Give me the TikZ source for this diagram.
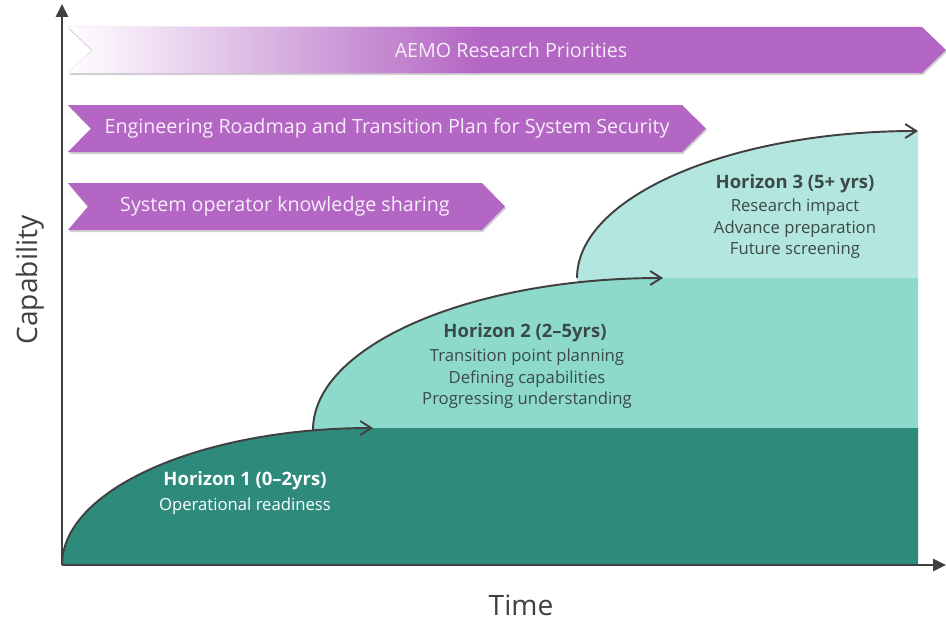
\documentclass[tikz,border=0pt]{standalone}
\usepackage{fontspec}
\setmainfont{Open Sans}
\usetikzlibrary{arrows.meta}
\definecolor{banner}{HTML}{B366C3}
\definecolor{bannertext}{HTML}{F7ECF9}
\definecolor{deepteal}{HTML}{2E8B7C}
\definecolor{midteal}{HTML}{8DD9CC}
\definecolor{paleteal}{HTML}{B3E6DE}
\definecolor{axisgrey}{HTML}{404040}
\definecolor{inkgrey}{HTML}{3B4A47}

\begin{document}
\begin{tikzpicture}[
  x=0.02cm, y=0.02cm,
  bannerlabel/.style={text=bannertext,font=\fontsize{11.2}{13}\selectfont,inner sep=0pt},
  htitle/.style={font=\fontsize{10.5}{12}\selectfont\bfseries,inner sep=0pt},
  hnote/.style={font=\fontsize{9.5}{12.2}\selectfont,align=center,inner sep=0pt},
  axislabel/.style={text=axisgrey,font=\fontsize{16}{19}\selectfont,inner sep=0pt},
  axis/.style={draw=axisgrey,line width=1.6pt,-{Triangle[length=2.6mm,width=2.4mm]}},
  growth/.style={draw=axisgrey,line width=1.1pt,-{Straight Barb[length=2.2mm,width=2.8mm]}},
  bannershadow/.style={fill=black,opacity=0.18}
]
\useasboundingbox (0,0) rectangle (946,620);

% banners
\fill[bannershadow] (69,545) -- (923,545) -- (947,568) -- (923,591) -- (69,591) -- (93,568) -- cycle;
\begin{scope}
  \clip (68,593) -- (922,593) -- (946,570) -- (922,547) -- (68,547) -- (92,570) -- cycle;
  \fill[banner] (60,540) rectangle (946,600);
  \shade[left color=white,right color=banner] (66,540) rectangle (480,600);
\end{scope}
\fill[bannershadow] (69,466) -- (683,466) -- (707,489.5) -- (683,513) -- (69,513) -- (92,489.5) -- cycle;
\fill[banner] (68,515) -- (682,515) -- (706,491.5) -- (682,468) -- (68,468) -- (91,491.5) -- cycle;
\fill[bannershadow] (69,388) -- (483,388) -- (506,411.5) -- (483,435) -- (69,435) -- (89,411.5) -- cycle;
\fill[banner] (68,437) -- (482,437) -- (505,413.5) -- (482,390) -- (68,390) -- (88,413.5) -- cycle;

\node[bannerlabel] (priorities) at (511,570) {AEMO Research Priorities};
\node[bannerlabel] (roadmap) at (387,491.5) {Engineering Roadmap and Transition Plan for System Security};
\node[bannerlabel] (sharing) at (285,413.5) {System operator knowledge sharing};

% horizon areas
\fill[paleteal] (577,335) -- (577,342) arc[start angle=180,end angle=90,x radius=341,y radius=147]
  -- (918,489) -- (918,335) -- cycle;
\fill[midteal] (313,185) -- (313,192) arc[start angle=180,end angle=90,x radius=350,y radius=150]
  -- (918,342) -- (918,185) -- cycle;
\fill[deepteal] (62,55) arc[start angle=180,end angle=90,x radius=311,y radius=137]
  -- (918,192) -- (918,55) -- cycle;

\draw[growth] (62,55) arc[start angle=180,end angle=90,x radius=311,y radius=137];
\draw[growth] (313,190) arc[start angle=180,end angle=90,x radius=350,y radius=152];
\draw[growth] (577,342) arc[start angle=180,end angle=90,x radius=341,y radius=147];

\node[htitle,text=white] (h1title) at (245,139) {Horizon 1 (0--2yrs)};
\node[hnote,text=white] (h1note) at (245,114) {Operational readiness};
\node[htitle,text=inkgrey] (h2title) at (525,287) {Horizon 2 (2--5yrs)};
\node[hnote,text=inkgrey] (h2note) at (527,241) {Transition point planning\\Defining capabilities\\Progressing understanding};
\node[htitle,text=inkgrey] (h3title) at (795,436) {Horizon 3 (5+ yrs)};
\node[hnote,text=inkgrey] (h3note) at (795,391) {Research impact\\Advance preparation\\Future screening};

% axes
\coordinate (origin) at (62,55);
\coordinate (ytip) at (62,616);
\coordinate (xtip) at (946,55);
\draw[axis] (origin) -- (ytip);
\draw[axis] (origin) -- (xtip);
\node[axislabel,rotate=90] (capability) at (30,340) {Capability};
\node[axislabel] (time) at (521,15) {Time};
\end{tikzpicture}
\end{document}
